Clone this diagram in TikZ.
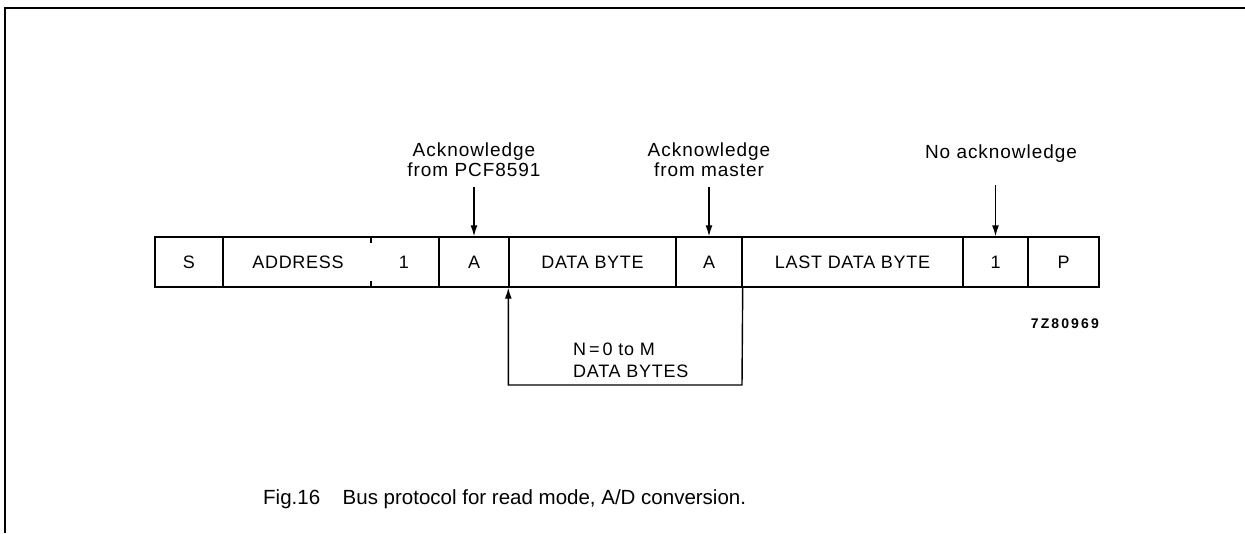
\documentclass[tikz,border=0pt]{standalone}
\usepackage{fontspec}
\setmainfont{Liberation Sans}
\newfontfamily\labfont[LetterSpace=4]{Liberation Sans}
\newfontfamily\ackfont[LetterSpace=5]{Liberation Sans}
\newfontfamily\codefont[LetterSpace=15]{Liberation Sans}
\usetikzlibrary{arrows.meta}
\begin{document}
\begin{tikzpicture}[x=1pt,y=-1pt,
  cell/.style={draw, line width=1.4pt, minimum height=50pt, inner sep=0pt,
    text height=13pt, text depth=0pt, font=\labfont\fontsize{18}{20}\selectfont},
  lab/.style={inner sep=0pt, font=\labfont\fontsize{18}{20}\selectfont},
  acklab/.style={inner sep=0pt, font=\ackfont\fontsize{19}{20}\selectfont},
  looplab/.style={inner sep=0pt, font=\labfont\fontsize{18}{22}\selectfont},
  arr/.style={line width=1.4pt, -{Latex[length=11pt,width=7pt]}},
  frame/.style={line width=1.6pt},
  tick/.style={line width=1.4pt},
]
\useasboundingbox (0,0) rectangle (1245,533);
\draw[frame] (1245,8) -- (5,8) -- (5,533);

% cells
\node[cell, minimum width=68pt] (s) at (189,262) {S};
\node[cell, minimum width=216pt] (addr) at (331,262) {};
\node[lab, text height=13pt, text depth=0pt] (addrt) at (298,262) {ADDRESS};
\node[lab, text height=13pt, text depth=0pt] (rw) at (404,262) {1};
\node[cell, minimum width=70pt] (a1) at (474,262) {A};
\node[cell, minimum width=167pt] (data) at (592.5,262) {DATA BYTE};
\node[cell, minimum width=66pt] (a2) at (709,262) {A};
\node[cell, minimum width=221pt] (last) at (852.5,262) {LAST DATA BYTE};
\node[cell, minimum width=65pt] (na) at (995.5,262) {1};
\node[cell, minimum width=71pt] (p) at (1063.5,262) {P};

% ticks between ADDRESS and 1
\coordinate (tk) at (371,262);
\draw[tick] (tk |- addr.north) -- ++(0,7);
\draw[tick] (tk |- addr.south) -- ++(0,-7);

% acknowledge labels and arrows
\node[acklab, align=center, anchor=south] (ack1) at (474,177) {Acknowledge\\from PCF8591};
\node[acklab, align=center, anchor=south] (ack2) at (709,177) {Acknowledge\\from master};
\node[acklab, anchor=base] (ack3) at (1001,158) {No acknowledge};
\draw[arr] ([yshift=-10pt]ack1.south) -- (a1.north);
\draw[arr] ([yshift=-10pt]ack2.south) -- (a2.north);
\draw[arr] ([yshift=-27pt]na.north |- ack3.base) -- (na.north);

% loop
\coordinate (loopbot) at (742,385);
\draw[arr] (a2.south east) -- (loopbot) -| (data.south west);
\node[looplab, align=left, anchor=north west] (nm) at (573,343) {N\,=\,0 to M\\DATA BYTES};

% code
\node[inner sep=0pt, anchor=base east, font=\codefont\bfseries\fontsize{14}{16}\selectfont] (code) at (1099,328) {7Z80969};

% caption
\node[inner sep=0pt, anchor=base west, font=\fontsize{20.5}{22}\selectfont] (cap) at (263,504) {Fig.16\hspace{1.1em}Bus protocol for read mode, A/D conversion.};
\end{tikzpicture}
\end{document}
